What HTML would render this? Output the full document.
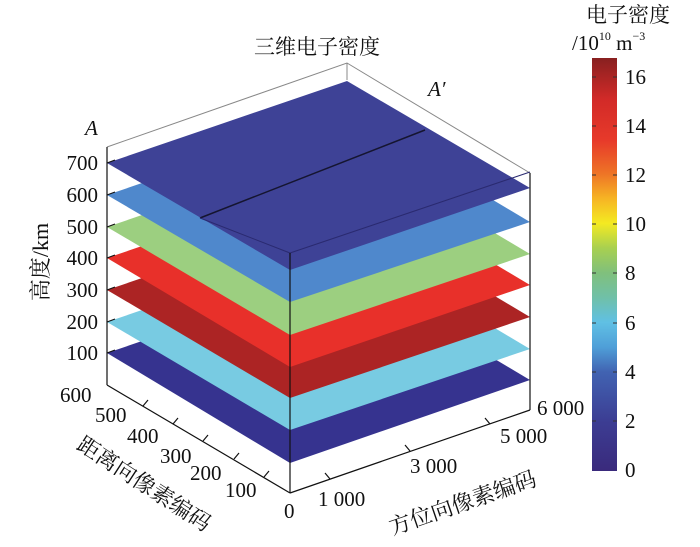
<!DOCTYPE html>
<html><head><meta charset="utf-8"><style>
html,body{margin:0;padding:0;background:#fff}
svg{display:block}
text{font-family:"Liberation Serif","Noto Serif CJK SC","Noto Sans CJK SC",serif;fill:#111}
</style></head><body>
<svg width="700" height="547" viewBox="0 0 700 547" xmlns="http://www.w3.org/2000/svg">
<defs>
<linearGradient id="cb" x1="0" y1="1" x2="0" y2="0">
<stop offset="0" stop-color="#3a2a7c"/>
<stop offset="0.12" stop-color="#3c3d93"/>
<stop offset="0.24" stop-color="#4163b2"/>
<stop offset="0.30" stop-color="#4f9fd8"/>
<stop offset="0.36" stop-color="#60c0e4"/>
<stop offset="0.42" stop-color="#70c0a8"/>
<stop offset="0.48" stop-color="#80c07c"/>
<stop offset="0.54" stop-color="#a8d050"/>
<stop offset="0.60" stop-color="#f4ea22"/>
<stop offset="0.66" stop-color="#f6b424"/>
<stop offset="0.72" stop-color="#ee7426"/>
<stop offset="0.80" stop-color="#e73a2a"/>
<stop offset="0.90" stop-color="#d22a28"/>
<stop offset="1" stop-color="#882020"/>
</linearGradient>
</defs>
<!-- back cube lines -->
<polyline points="107,147 347,63 530,173" fill="none" stroke="#888" stroke-width="1"/>
<line x1="347" y1="63" x2="347" y2="80" stroke="#888"/>
<!-- layers bottom to top: L(107,y) F(290,y+110) R(530,y+27) B(347,y-82) -->
<g>
<polygon points="107,353 347,271 530,380 290,463" fill="#36338f"/>
<polygon points="107,322 347,240 530,349 290,430" fill="#78cbe2"/>
<polygon points="107,290 347,208 530,317 290,398" fill="#ac2424"/>
<polygon points="107,258 347,176 530,285 290,367" fill="#e8302a"/>
<polygon points="107,227 347,145 530,254 290,335" fill="#9ccf80"/>
<polygon points="107,195 347,113 530,222 290,302" fill="#4f88cc"/>
<polygon points="107,163 347,81 530,188 290,270" fill="#3e4296"/>
</g>
<line x1="200" y1="218" x2="425" y2="130" stroke="#151530" stroke-width="1.5"/>
<line x1="200" y1="218" x2="290" y2="253" stroke="#2a2a70" stroke-width="1"/>
<line x1="290" y1="253" x2="530" y2="172" stroke="#2a2a70" stroke-width="1"/>
<!-- front axes -->
<line x1="107" y1="147" x2="107" y2="385" stroke="#111" stroke-width="1.2"/>
<line x1="530" y1="173" x2="530" y2="410" stroke="#111" stroke-width="1.2"/>
<line x1="290" y1="253" x2="290" y2="493" stroke="#111" stroke-width="1.2"/>
<line x1="107" y1="385" x2="290" y2="493" stroke="#111" stroke-width="1.2"/>
<line x1="290" y1="493" x2="530" y2="410" stroke="#111" stroke-width="1.2"/>
<!-- left height ticks -->
<g stroke="#111" stroke-width="1.2">
<line x1="107" y1="163" x2="115" y2="160"/><line x1="107" y1="195" x2="115" y2="192"/><line x1="107" y1="227" x2="115" y2="224"/><line x1="107" y1="258" x2="115" y2="255"/><line x1="107" y1="290" x2="115" y2="287"/><line x1="107" y1="322" x2="115" y2="319"/><line x1="107" y1="353" x2="115" y2="350"/>
<!-- range ticks -->
<line x1="143" y1="406" x2="148" y2="400"/><line x1="173" y1="424" x2="178" y2="418"/><line x1="203" y1="441" x2="208" y2="435"/><line x1="234" y1="459" x2="239" y2="453"/><line x1="264" y1="477" x2="269" y2="471"/>
<!-- azimuth ticks -->
<line x1="330" y1="479" x2="325" y2="473"/><line x1="410" y1="451" x2="405" y2="445"/><line x1="490" y1="424" x2="485" y2="418"/>
</g>
<g font-size="21">
<text x="98" y="170" text-anchor="end">700</text>
<text x="98" y="202" text-anchor="end">600</text>
<text x="98" y="234" text-anchor="end">500</text>
<text x="98" y="265" text-anchor="end">400</text>
<text x="98" y="297" text-anchor="end">300</text>
<text x="98" y="329" text-anchor="end">200</text>
<text x="98" y="360" text-anchor="end">100</text>
<text x="60" y="402">600</text>
<text x="95" y="422">500</text>
<text x="127" y="443">400</text>
<text x="160" y="463">300</text>
<text x="190" y="480">200</text>
<text x="225" y="497">100</text>
<text x="284" y="518">0</text>
<text x="318" y="506">1 000</text>
<text x="410" y="473">3 000</text>
<text x="500" y="443">5 000</text>
<text x="537" y="415">6 000</text>
</g>
<text x="85" y="135" font-size="21" font-style="italic">A</text>
<text x="428" y="96" font-size="21" font-style="italic">A′</text>
<text x="317" y="54" font-size="21" text-anchor="middle">三维电子密度</text>
<text transform="translate(48,262) rotate(-90)" font-size="22" text-anchor="middle">高度/km</text>
<text transform="translate(140,490) rotate(33)" font-size="22" text-anchor="middle">距离向像素编码</text>
<text transform="translate(465,510) rotate(-19)" font-size="22" text-anchor="middle">方位向像素编码</text>
<!-- colorbar -->
<rect x="592" y="58" width="25" height="413" fill="url(#cb)"/>
<g stroke="#333" stroke-width="1">
<line x1="592" y1="77" x2="596" y2="77"/><line x1="613" y1="77" x2="617" y2="77"/>
<line x1="592" y1="126" x2="596" y2="126"/><line x1="613" y1="126" x2="617" y2="126"/>
<line x1="592" y1="175" x2="596" y2="175"/><line x1="613" y1="175" x2="617" y2="175"/>
<line x1="592" y1="224" x2="596" y2="224"/><line x1="613" y1="224" x2="617" y2="224"/>
<line x1="592" y1="273" x2="596" y2="273"/><line x1="613" y1="273" x2="617" y2="273"/>
<line x1="592" y1="323" x2="596" y2="323"/><line x1="613" y1="323" x2="617" y2="323"/>
<line x1="592" y1="372" x2="596" y2="372"/><line x1="613" y1="372" x2="617" y2="372"/>
<line x1="592" y1="421" x2="596" y2="421"/><line x1="613" y1="421" x2="617" y2="421"/>
</g>
<g font-size="21">
<text x="625" y="84">16</text><text x="625" y="133">14</text><text x="625" y="182">12</text><text x="625" y="231">10</text>
<text x="625" y="280">8</text><text x="625" y="330">6</text><text x="625" y="379">4</text><text x="625" y="428">2</text><text x="625" y="477">0</text>
</g>
<text x="628" y="22" font-size="21" text-anchor="middle">电子密度</text>
<text x="572" y="50" font-size="21">/10<tspan font-size="12" dy="-10">10</tspan><tspan dy="10"> m</tspan><tspan font-size="12" dy="-10">−3</tspan></text>
</svg>
</body></html>
